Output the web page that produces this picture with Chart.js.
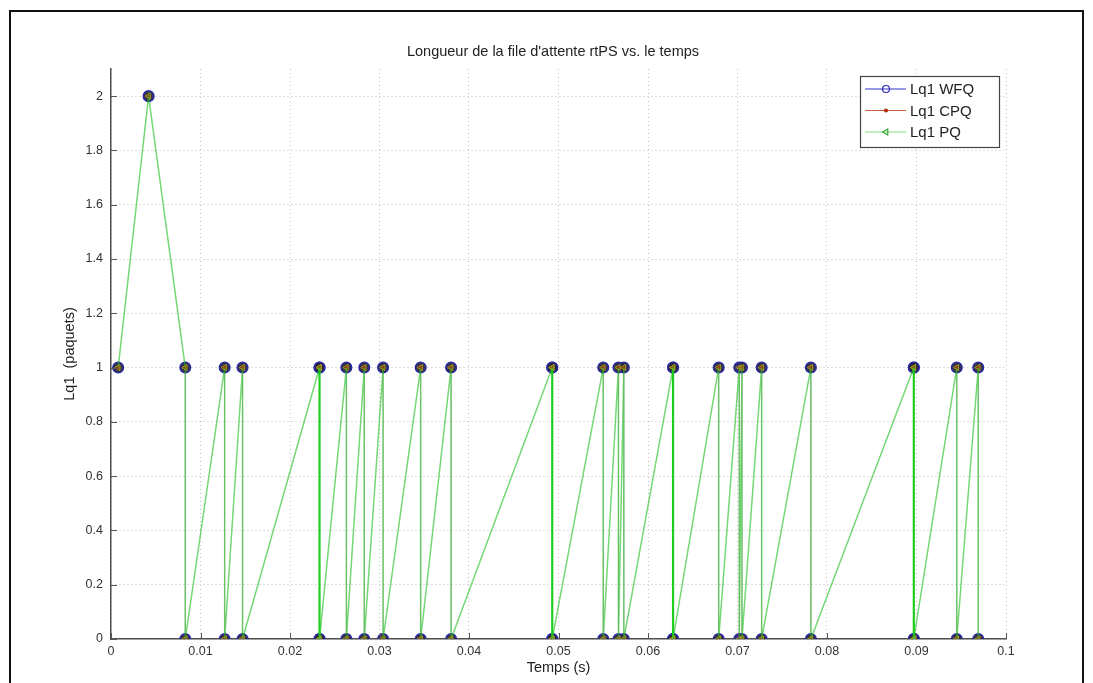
<!DOCTYPE html>
<html>
<head>
<meta charset="utf-8">
<title>Lq1 rtPS</title>
<script src="https://cdn.jsdelivr.net/npm/chart.js@4/dist/chart.umd.min.js"></script>
<style>
  html, body { margin: 0; padding: 0; background: #fff; }
  canvas { display: block; }
</style>
</head>
<body>
<canvas id="myChart" width="1093" height="683"></canvas>
<script>
// temps des evenements (s) : arrivee -> Lq1 monte, depart -> Lq1 redescend
const temps = [
  0.0008, 0.0042, 0.0083, 0.0083, 0.0127, 0.0127, 0.0147, 0.0147,
  0.0233, 0.0233, 0.0233, 0.0233, 0.0263, 0.0263, 0.0283, 0.0283,
  0.0304, 0.0304, 0.0346, 0.0346, 0.0380, 0.0380, 0.0493, 0.0493,
  0.0493, 0.0493, 0.0550, 0.0550, 0.0567, 0.0567, 0.0573, 0.0573,
  0.0628, 0.0628, 0.0628, 0.0628, 0.0679, 0.0679, 0.0702, 0.0702,
  0.0705, 0.0705, 0.0727, 0.0727, 0.0782, 0.0782, 0.0897, 0.0897,
  0.0897, 0.0897, 0.0945, 0.0945, 0.0969, 0.0969
];
const lqPQ = [
  1, 2, 1, 0, 1, 0, 1, 0,
  1, 0, 1, 0, 1, 0, 1, 0,
  1, 0, 1, 0, 1, 0, 1, 0,
  1, 0, 1, 0, 1, 0, 1, 0,
  1, 0, 1, 0, 1, 0, 1, 0,
  1, 0, 1, 0, 1, 0, 1, 0,
  1, 0, 1, 0, 1, 0
];
// WFQ et CPQ donnent la meme file pour cette classe
const lqWFQ = lqPQ.slice();
const lqCPQ = lqPQ.slice();

const xTicks = [0, 0.01, 0.02, 0.03, 0.04, 0.05, 0.06, 0.07, 0.08, 0.09, 0.1];
const xTickLabels = ['0', '0.01', '0.02', '0.03', '0.04', '0.05', '0.06', '0.07', '0.08', '0.09', '0.1'];
const yTicks = [0, 0.2, 0.4, 0.6, 0.8, 1, 1.2, 1.4, 1.6, 1.8, 2];
const yTickLabels = ['0', '0.2', '0.4', '0.6', '0.8', '1', '1.2', '1.4', '1.6', '1.8', '2'];

const pts = (ys) => temps.map((t, i) => ({ x: t, y: ys[i] }));
const FONT = '"Liberation Sans", Arial, sans-serif';

// deux paquets servis au meme instant -> segments superposes, trait plus marque
const nbAuMemeTemps = {};
temps.forEach(t => { nbAuMemeTemps[t] = (nbAuMemeTemps[t] || 0) + 1; });
const superpose = (ctx) =>
  ctx.p0.parsed.x === ctx.p1.parsed.x && nbAuMemeTemps[ctx.p0.parsed.x] >= 4;

// PQ est trace en dernier et recouvre les deux autres courbes
const datasets = [
  {
    label: 'Lq1 WFQ', data: pts(lqWFQ), order: 2,
    borderColor: 'rgba(40,40,220,0.18)', borderWidth: 0.5,
    pointStyle: 'circle', pointRadius: 5.3, pointBorderWidth: 1.5,
    pointBorderColor: '#2a2aa8', pointBackgroundColor: 'rgba(40,36,48,0.92)'
  },
  {
    label: 'Lq1 CPQ', data: pts(lqCPQ), order: 1,
    borderColor: 'rgba(210,80,30,0.18)', borderWidth: 0.5,
    pointStyle: 'circle', pointRadius: 2, pointBorderWidth: 0,
    pointBorderColor: '#c03010', pointBackgroundColor: '#a03010'
  },
  {
    label: 'Lq1 PQ', data: pts(lqPQ), order: 0,
    borderColor: 'rgba(20,205,20,0.55)', borderWidth: 1.5,
    segment: {
      borderColor: ctx => superpose(ctx) ? 'rgba(20,205,20,0.95)' : undefined,
      borderWidth: ctx => superpose(ctx) ? 2.2 : undefined
    },
    pointStyle: 'triangle', pointRotation: -90, pointRadius: 3.5, pointBorderWidth: 1,
    pointBorderColor: '#9a9a2a', pointBackgroundColor: 'rgba(0,0,0,0)'
  }
];

// fond, cadre de la figure, titre et petites graduations interieures
const figureFrame = {
  id: 'figureFrame',
  beforeDraw(chart) {
    const ctx = chart.ctx;
    ctx.save();
    ctx.fillStyle = '#fff';
    ctx.fillRect(0, 0, chart.width, chart.height);
    ctx.strokeStyle = '#111';
    ctx.lineWidth = 2;
    ctx.strokeRect(10, 11, 1073, 700);
    ctx.fillStyle = '#222';
    ctx.font = '14.5px ' + FONT;
    ctx.textAlign = 'center';
    ctx.textBaseline = 'middle';
    ctx.fillText("Longueur de la file d'attente rtPS vs. le temps", 553, 52);
    ctx.restore();
  },
  afterDatasetsDraw(chart) {
    const { ctx, chartArea: a, scales: { x, y } } = chart;
    ctx.save();
    ctx.strokeStyle = '#555';
    ctx.lineWidth = 1;
    ctx.beginPath();
    xTicks.forEach(v => {
      const px = Math.round(x.getPixelForValue(v)) + 0.5;
      ctx.moveTo(px, a.bottom);
      ctx.lineTo(px, a.bottom - 6);
    });
    yTicks.forEach(v => {
      const py = Math.round(y.getPixelForValue(v)) + 0.5;
      ctx.moveTo(a.left, py);
      ctx.lineTo(a.left + 6, py);
    });
    ctx.stroke();
    ctx.restore();
  }
};

// legende facon matlab, dans le coin haut droit
const matlabLegend = {
  id: 'matlabLegend',
  afterDraw(chart) {
    const ctx = chart.ctx;
    const bx = 860, by = 76, bw = 139, bh = 71;
    const lineCol = ['#3535c8', '#c86040', '#80dd80'];
    const markCol = ['#2a2ab0', '#b03010', '#3aa83a'];
    ctx.save();
    ctx.fillStyle = '#fff';
    ctx.fillRect(bx, by, bw, bh);
    ctx.strokeStyle = '#444';
    ctx.lineWidth = 1.2;
    ctx.strokeRect(bx + 0.5, by + 0.5, bw, bh);
    chart.data.datasets.forEach((ds, i) => {
      const y = by + 13 + i * 21.5;
      ctx.strokeStyle = lineCol[i];
      ctx.lineWidth = 1.2;
      ctx.beginPath();
      ctx.moveTo(bx + 5, y);
      ctx.lineTo(bx + 46, y);
      ctx.stroke();
      ctx.strokeStyle = markCol[i];
      ctx.fillStyle = i === 1 ? markCol[i] : 'rgba(0,0,0,0)';
      Chart.helpers.drawPoint(ctx, {
        pointStyle: ds.pointStyle,
        radius: i === 1 ? 1.5 : 3.5,
        rotation: ds.pointRotation || 0,
        borderWidth: 1
      }, bx + 26, y);
      ctx.fillStyle = '#222';
      ctx.font = '15px ' + FONT;
      ctx.textBaseline = 'middle';
      ctx.textAlign = 'left';
      ctx.fillText(ds.label, bx + 50, y + 1);
    });
    ctx.restore();
  }
};

const config = {
  type: 'line',
  data: { datasets: datasets },
  options: {
    responsive: false,
    animation: false,
    layout: { padding: { left: 0, right: 87, top: 69, bottom: 0 } },
    plugins: {
      legend: { display: false },
      tooltip: { enabled: false },
      title: { display: false }
    },
    scales: {
      x: {
        type: 'linear',
        min: 0, max: 0.1,
        afterFit(scale) { scale.height = 44; },
        afterBuildTicks(scale) { scale.ticks = xTicks.map(v => ({ value: v })); },
        ticks: {
          autoSkip: false, maxRotation: 0, padding: 5,
          color: '#333',
          font: { family: FONT, size: 12.5 },
          callback: (v, i) => xTickLabels[i]
        },
        grid: { color: 'rgba(0,0,0,0.25)', lineWidth: 1, drawTicks: false },
        border: { display: true, color: '#505050', width: 1.5, dash: [1, 3] },
        title: {
          display: true, text: 'Temps (s)', color: '#222',
          font: { family: FONT, size: 14.5 },
          padding: { top: 0, bottom: 6 }
        }
      },
      y: {
        type: 'linear',
        min: 0, max: 2.1,
        afterFit(scale) { scale.width = 111; },
        afterBuildTicks(scale) { scale.ticks = yTicks.map(v => ({ value: v })); },
        ticks: {
          padding: 8, color: '#333',
          font: { family: FONT, size: 12.5 },
          callback: (v, i) => yTickLabels[i]
        },
        grid: { color: 'rgba(0,0,0,0.25)', lineWidth: 1, drawTicks: false },
        border: { display: true, color: '#505050', width: 1.5, dash: [1, 3] },
        title: {
          display: true, text: 'Lq1  (paquets)', color: '#222',
          font: { family: FONT, size: 14.5 },
          padding: { top: 61, bottom: 0 }
        }
      }
    },
    elements: { line: { tension: 0 } }
  },
  plugins: [figureFrame, matlabLegend]
};

const myChart = new Chart(document.getElementById('myChart'), config);
</script>
</body>
</html>
